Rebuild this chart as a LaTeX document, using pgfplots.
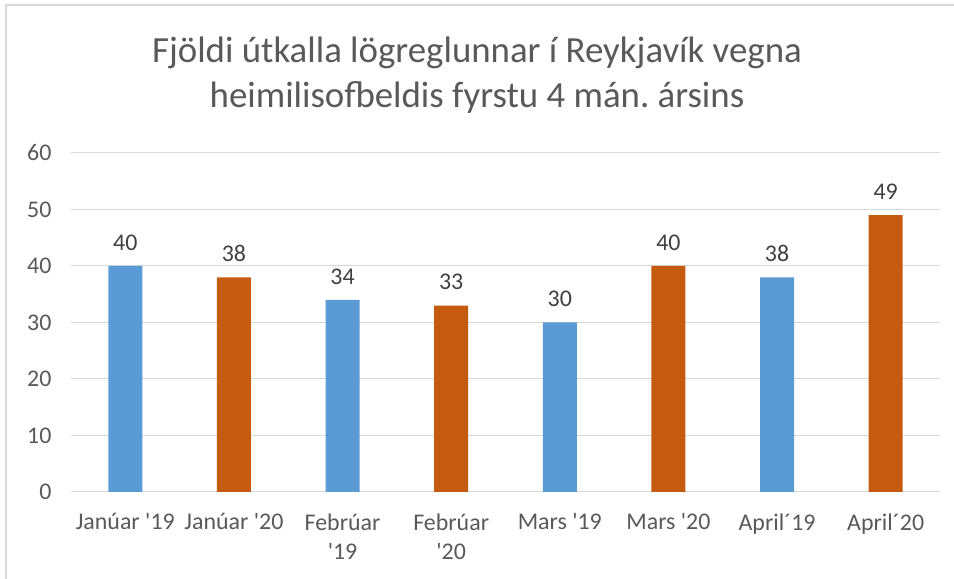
\documentclass[border=0pt]{standalone}
\usepackage{pgfplots}
\pgfplotsset{compat=1.18}
\usepackage{fontspec}
\setmainfont{Carlito}[Ligatures=TeXOff]
\frenchspacing
\definecolor{cblue}{HTML}{5B9BD5}
\definecolor{corange}{HTML}{C55A11}
\definecolor{cgrid}{HTML}{D9D9D9}
\definecolor{ctext}{HTML}{595959}
\definecolor{clab}{HTML}{404040}
\begin{document}
\begin{tikzpicture}[x=1bp,y=1bp]
\useasboundingbox (0,0) rectangle (954,579);
\draw[cgrid,line width=1.5bp] (6,0) -- (6,574) -- (954,574);
\node[font=\fontsize{37}{45}\selectfont,text=ctext,align=center] at (477,504) {Fjöldi útkalla lögreglunnar í Reykjavík vegna\\heimilisofbeldis fyrstu 4 mán.\ ársins};
\begin{axis}[
  at={(71bp,87bp)}, anchor=south west,
  scale only axis, width=869bp, height=339bp,
  xmin=-0.5, xmax=7.5, ymin=0, ymax=60,
  ytick={0,10,...,60},
  xtick={0,...,7},
  xticklabels={{Janúar '19},{Janúar '20},{Febrúar\\'19},{Febrúar\\'20},{Mars '19},{Mars '20},{April´19},{April´20}},
  xticklabel style={align=center,text=ctext,font=\fontsize{24}{29}\selectfont,yshift=-18bp},
  yticklabel style={text=ctext,font=\fontsize{24}{28}\selectfont,xshift=-16bp},
  /pgf/number format/assume math mode=true,
  axis line style={draw=none},
  major tick length=0pt,
  ymajorgrids, grid style={cgrid,line width=1bp},
  ybar, bar width=34bp, bar shift=0pt,
  nodes near coords,
  every node near coord/.append style={text=clab,font=\fontsize{24}{28}\selectfont,yshift=12bp},
  clip=false,
]
\addplot[fill=cblue,draw=none] coordinates {(0,40) (2,34) (4,30) (6,38)};
\addplot[fill=corange,draw=none] coordinates {(1,38) (3,33) (5,40) (7,49)};
\end{axis}
\end{tikzpicture}
\end{document}
